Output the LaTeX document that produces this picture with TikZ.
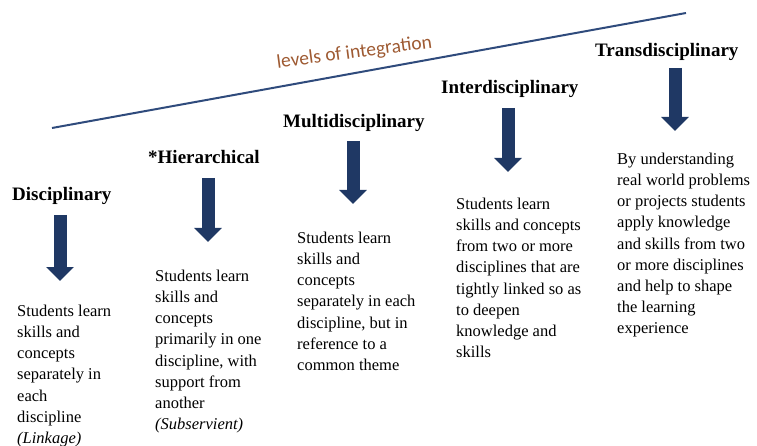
\documentclass[tikz,border=0pt]{standalone}
\usepackage{fontspec}
\setmainfont{Liberation Serif}
\newfontfamily\calfont{Carlito}
\usepackage{tikz}
\usetikzlibrary{arrows.meta}
\definecolor{axisblue}{HTML}{2F4B7C}
\definecolor{arrowblue}{HTML}{1F3864}
\definecolor{levelbrown}{HTML}{9E5A32}

\begin{document}
\begin{tikzpicture}[x=1pt, y=-1pt,
    heading/.style={anchor=base west, inner sep=0pt, font=\fontsize{19}{22}\selectfont\bfseries},
    bodytext/.style={anchor=north west, inner sep=0pt, align=left, font=\fontsize{16.5}{21.1}\selectfont},
    downarrow/.style={arrowblue, line width=13pt, -{Triangle[width=27pt, length=14pt]}}]
            \useasboundingbox (0,0) rectangle (757,446);

            % axis of integration
            \coordinate (axisstart) at (52,128);
            \coordinate (axisend) at (686,13);
            \draw[axisblue, line width=2pt] (axisstart) -- (axisend);
            \node[levelbrown, anchor=base, rotate=7.5, font=\fontsize{19.5}{22}\selectfont\calfont] (levels) at (355,58) {levels of integration};

            % headings
            \node[heading] (disc) at (12,201) {Disciplinary};
            \node[heading] (hier) at (148,164) {*Hierarchical};
            \node[heading] (multi) at (283,128) {Multidisciplinary};
            \node[heading] (inter) at (441,94) {Interdisciplinary};
            \node[heading] (trans) at (595,57) {Transdisciplinary};

            % descriptions
            \node[bodytext] (disctxt) at (17,305) {Students learn\\skills and\\concepts\\separately in\\each\\discipline\\\textit{(Linkage)}};
            \node[bodytext] (hiertxt) at (155,270) {Students learn\\skills and\\concepts\\primarily in one\\discipline, with\\support from\\another\\\textit{(Subservient)}};
            \node[bodytext] (multitxt) at (297,232) {Students learn\\skills and\\concepts\\separately in each\\discipline, but in\\reference to a\\common theme};
            \node[bodytext] (intertxt) at (456,198) {Students learn\\skills and concepts\\from two or more\\disciplines that are\\tightly linked so as\\to deepen\\knowledge and\\skills};
            \node[bodytext] (transtxt) at (617,153) {By understanding\\real world problems\\or projects students\\apply knowledge\\and skills from two\\or more disciplines\\and help to shape\\the learning\\experience};

            % arrows
            \coordinate (disctop) at (60,215);
            \coordinate (disctip) at (60,281);
            \coordinate (hiertop) at (208,178);
            \coordinate (hiertip) at (208,242);
            \coordinate (multitop) at (353,141);
            \coordinate (multitip) at (353,204);
            \coordinate (intertop) at (508,108);
            \coordinate (intertip) at (508,172);
            \coordinate (transtop) at (675,68);
            \coordinate (transtip) at (675,131);
            \draw[downarrow] (disctop) -- (disctip);
            \draw[downarrow] (hiertop) -- (hiertip);
            \draw[downarrow] (multitop) -- (multitip);
            \draw[downarrow] (intertop) -- (intertip);
            \draw[downarrow] (transtop) -- (transtip);
        \end{tikzpicture}
\end{document}
